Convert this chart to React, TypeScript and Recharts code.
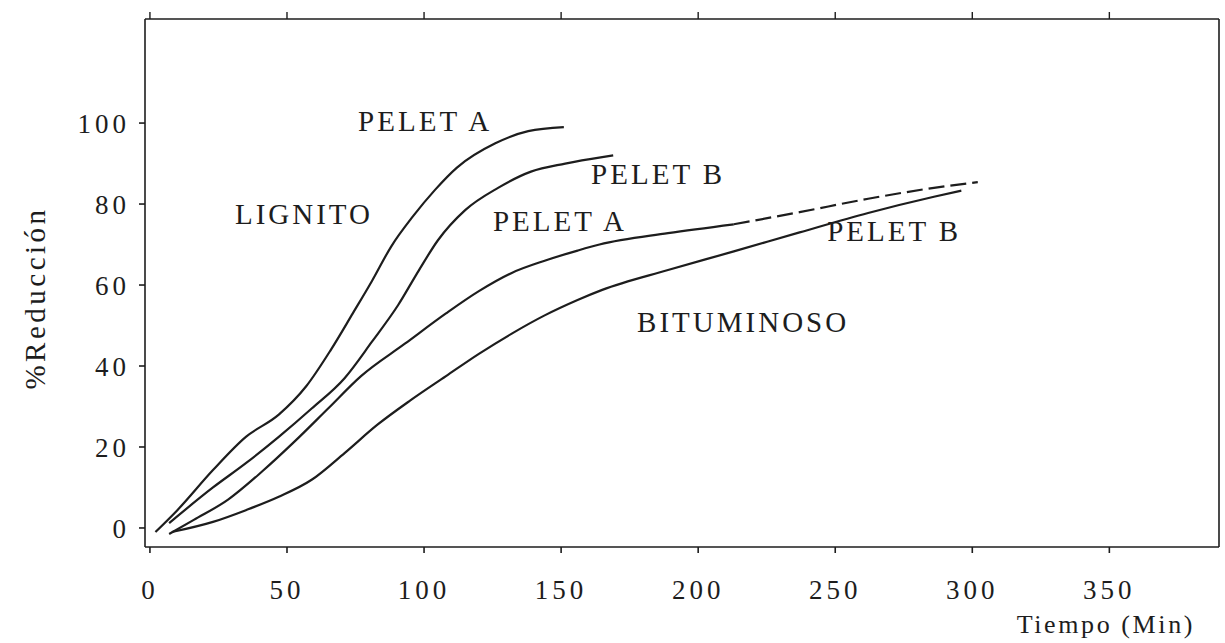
import React from 'react';
import {
  LineChart, Line, XAxis, YAxis, ReferenceDot,
} from 'recharts';

// Lignito - pelet A
const lignitoA_t = [2, 10, 23, 35, 47, 57, 66, 74, 81, 88, 96, 104, 112, 126, 138, 151];
const lignitoA_y = [-1, 4.4, 14.3, 22.5, 28, 35, 44, 53, 61, 69.5, 77, 83.5, 89, 95, 98, 99];

// Lignito - pelet B
const lignitoB_t = [7, 23, 35, 47, 59, 71, 81, 90.5, 98, 105, 115, 127, 139, 151.5, 165, 169];
const lignitoB_y = [1.2, 10, 16, 22.5, 29.5, 37, 46, 55, 63.5, 71, 78.5, 84, 88, 90, 91.6, 92];

// Bituminoso - pelet A (tramo continuo + tramo cortado al final)
const bitA_t = [7, 16, 28.5, 41, 53, 65, 77, 93, 108, 120, 132, 144, 156, 164, 189, 213];
const bitA_y = [-1.5, 2, 7, 14, 21.5, 29.5, 37.5, 45.5, 53, 58.5, 63, 66, 68.5, 70, 72.8, 75];
const bitAFin_t = [213, 237, 262, 286, 302];
const bitAFin_y = [75, 78, 81.3, 84, 85.4];

// Bituminoso - pelet B
const bitB_t = [8, 23, 35, 47, 59, 71, 83, 95, 108, 120, 132, 144, 156, 165, 189, 213, 237, 262, 286, 296];
const bitB_y = [-1, 1.5, 4.4, 7.7, 11.9, 18.5, 25.5, 31.5, 37.5, 43, 48, 52.5, 56.3, 58.8, 63.7, 68.3, 73, 77.8, 81.8, 83.3];

const xTicks = [0, 50, 100, 150, 200, 250, 300, 350];
const yTicks = [0, 20, 40, 60, 80, 100];

// rótulos dentro del gráfico
const rotulos = ['PELET A', 'LIGNITO', 'PELET B', 'PELET A', 'PELET B', 'BITUMINOSO'];
const rotulos_t = [100.4, 56.2, 185.4, 149.6, 271.5, 216.4];
const rotulos_y = [100.5, 77.5, 87.4, 75.8, 73.3, 50.9];

const toPoints = (t: number[], y: number[]) => t.map((v, i) => ({ t: v, r: y[i] }));

const ink = '#1d1d1d';
const typo = '"Liberation Serif", "DejaVu Serif", serif';

// the dashed tail sits on the top axis (same domain) so that axis gets its ticks
const series = [
  { name: 'Lignito pelet A', data: toPoints(lignitoA_t, lignitoA_y), dash: undefined, xId: 0 },
  { name: 'Lignito pelet B', data: toPoints(lignitoB_t, lignitoB_y), dash: undefined, xId: 0 },
  { name: 'Bituminoso pelet A', data: toPoints(bitA_t, bitA_y), dash: undefined, xId: 0 },
  { name: 'Bituminoso pelet A (fin)', data: toPoints(bitAFin_t, bitAFin_y), dash: '16 6', xId: 'top' },
  { name: 'Bituminoso pelet B', data: toPoints(bitB_t, bitB_y), dash: undefined, xId: 0 },
];

export default function App() {
  return (
    <div style={{ position: 'absolute', left: 0, top: 0, background: '#fff' }}>
      <LineChart width={1225} height={643} margin={{ top: 18, right: 5, bottom: 0, left: 0 }}>
        <XAxis
          xAxisId="top" orientation="top" type="number" dataKey="t"
          domain={[-1.8, 390]} ticks={xTicks} height={1}
          stroke={ink} strokeWidth={1.6} tickSize={7}
          tickLine={{ stroke: ink, strokeWidth: 1.4 }}
          tick={() => <g />}
        />
        <XAxis
          type="number" dataKey="t" domain={[-1.8, 390]} ticks={xTicks} height={96}
          stroke={ink} strokeWidth={1.6} tickSize={6} tickMargin={27}
          tick={{ fill: ink, fontSize: 27, fontFamily: typo, letterSpacing: 4 }}
          label={{
            content: ({ viewBox }: any) => (
              <text
                x={viewBox.x + viewBox.width - 24} y={viewBox.y + 86}
                textAnchor="end" fill={ink} fontSize={26} fontFamily={typo} letterSpacing={2.6}
              >
                Tiempo (Min)
              </text>
            ),
          }}
        />
        <YAxis
          type="number" domain={[-4.7, 125.7]} ticks={yTicks} width={145}
          stroke={ink} strokeWidth={1.6} tickSize={6} tickMargin={9}
          tick={{ fill: ink, fontSize: 27, fontFamily: typo, letterSpacing: 4 }}
          label={{
            content: ({ viewBox }: any) => (
              <text
                x={viewBox.x + 35} y={viewBox.y + 279}
                transform={`rotate(-90 ${viewBox.x + 35} ${viewBox.y + 279})`}
                textAnchor="middle" dominantBaseline="central"
                fill={ink} fontSize={29} fontFamily={typo} letterSpacing={3.5}
              >
                %Reducción
              </text>
            ),
          }}
        />
        <YAxis
          yAxisId="right" orientation="right" type="number" domain={[-4.7, 125.7]}
          width={1} stroke={ink} strokeWidth={1.6} tick={false} tickLine={false}
        />
        {series.map((s) => (
          <Line
            key={s.name} name={s.name} data={s.data} dataKey="r" type="monotone"
            xAxisId={s.xId}
            stroke={ink} strokeWidth={2.2} strokeDasharray={s.dash}
            dot={false} activeDot={false} isAnimationActive={false}
          />
        ))}
        {rotulos.map((txt, i) => (
          <ReferenceDot
            key={i} x={rotulos_t[i]} y={rotulos_y[i]} r={0} stroke="none" fill="none"
            label={{ value: txt, position: 'center', fill: ink, fontSize: 29, fontFamily: typo, letterSpacing: 3 }}
          />
        ))}
      </LineChart>
    </div>
  );
}
